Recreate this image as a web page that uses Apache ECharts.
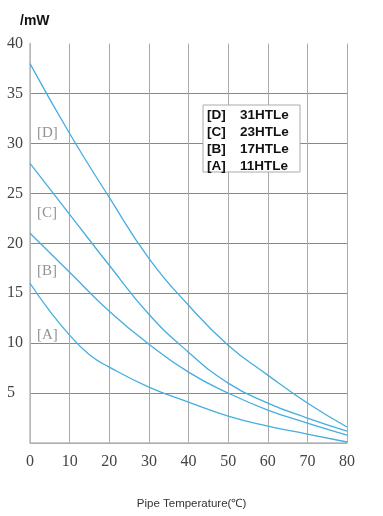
<!DOCTYPE html>
<html><head><meta charset="utf-8">
<script src="https://cdn.jsdelivr.net/npm/echarts@6/dist/echarts.min.js"></script>
<style>html,body{margin:0;padding:0;background:#fff}#c{width:383px;height:516px}</style>
</head><body><div id="c"></div>
<script>
const tempsD = [0, 10, 20, 30, 40, 50, 60, 70, 80];
const seriesD = [38, 31.0, 24.6, 18.5, 13.8, 9.8, 6.8, 4.0, 1.6];
const tempsC = [0, 10, 20, 30, 40, 50, 60, 70, 80];
const seriesC = [28, 22.9, 17.8, 12.9, 9.1, 6.0, 4.0, 2.5, 1.2];
const tempsB = [0, 10, 20, 30, 40, 50, 60, 70, 80];
const seriesB = [21, 17.1, 13.2, 9.9, 7.1, 5.0, 3.3, 2.0, 0.8];
const tempsA = [0, 5, 10, 15, 20, 30, 40, 50, 60, 70, 80];
const seriesA = [16, 13.2, 10.8, 8.85, 7.6, 5.6, 4.1, 2.7, 1.7, 0.9, 0.1];
const legendCodes = ['[D]', '[C]', '[B]', '[A]'];
const legendNames = ['31HTLe', '23HTLe', '17HTLe', '11HTLe'];
const curveLabels = [['[D]', 31], ['[C]', 23], ['[B]', 17.2], ['[A]', 10.8]];

const chart = echarts.init(document.getElementById('c'));
const lineColor = '#45ade0';
function mk(name, xs, vals) {
  return {
    name, type: 'line', smooth: 0.5, symbol: 'none',
    data: xs.map((t, i) => [t, vals[i]]),
    lineStyle: { color: lineColor, width: 1.3 }, z: 3
  };
}
const serif = '"Liberation Serif", "DejaVu Serif", serif';
const sans = '"Liberation Sans", Arial, sans-serif';
const graphics = [
  { type: 'text', left: 20, top: 14, style: { text: '/mW', font: 'bold 14px ' + sans, fill: '#111' } },
  { type: 'text', left: 'center', top: 498, style: { text: 'Pipe Temperature(℃)', font: '11.5px ' + sans, fill: '#333' } },
  { type: 'rect', shape: { x: 203, y: 105, width: 97, height: 67 }, style: { fill: '#fff', stroke: '#aaa', lineWidth: 1 }, z: 10 }
];
legendCodes.forEach((c, i) => {
  graphics.push({ type: 'text', x: 207, y: 108 + i * 17, style: { text: c, font: 'bold 13.5px ' + sans, fill: '#111' }, z: 11 });
  graphics.push({ type: 'text', x: 240, y: 108 + i * 17, style: { text: legendNames[i], font: 'bold 13.5px ' + sans, fill: '#111' }, z: 11 });
});
chart.setOption({
  animation: false,
  grid: { left: 30, right: 36, top: 43.6, bottom: 73 },
  xAxis: {
    type: 'value', min: 0, max: 80, interval: 10,
    axisLine: { show: true, lineStyle: { color: '#bbb', width: 1.5 } },
    axisTick: { show: false },
    axisLabel: { color: '#444', fontFamily: serif, fontSize: 16, margin: 11 },
    splitLine: { show: true, lineStyle: { color: '#aaa', width: 1 } }
  },
  yAxis: {
    type: 'value', min: 0, max: 40, interval: 5,
    axisLine: { show: true, lineStyle: { color: '#bbb', width: 1.5 } },
    axisTick: { show: false },
    axisLabel: { color: '#444', fontFamily: serif, fontSize: 16, align: 'left', margin: 23,
      formatter: v => v === 0 ? '' : String(v) },
    splitLine: { show: true, showMaxLine: false, lineStyle: { color: '#888', width: 1 } }
  },
  series: [
    mk('D', tempsD, seriesD), mk('C', tempsC, seriesC), mk('B', tempsB, seriesB), mk('A', tempsA, seriesA),
    {
      type: 'scatter', symbolSize: 0, silent: true,
      data: curveLabels.map(c => [1, c[1], c[0]]),
      label: { show: true, position: 'right', offset: [-2, 0], formatter: p => p.data[2],
        color: '#777', fontFamily: serif, fontSize: 15 }
    }
  ],
  graphic: graphics
});
</script></body></html>
